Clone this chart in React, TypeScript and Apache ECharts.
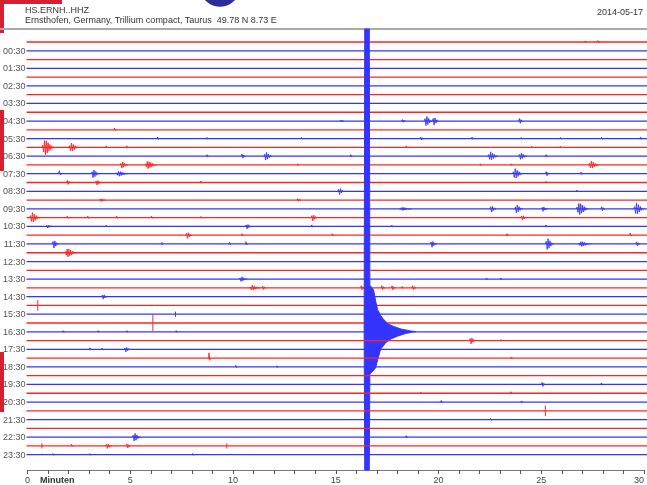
import React, { useEffect, useRef } from "react";
import * as echarts from "echarts";

const stationTitle = "HS.ERNH..HHZ";
const stationInfo = "Ernsthofen, Germany, Trillium compact, Taurus  49.78 N 8.73 E";
const dateLabel = "2014-05-17";
const xAxisName = "Minuten";

const hourLabels = [
  "00:30", "01:30", "02:30", "03:30", "04:30", "05:30", "06:30", "07:30",
  "08:30", "09:30", "10:30", "11:30", "12:30", "13:30", "14:30", "15:30",
  "16:30", "17:30", "18:30", "19:30", "20:30", "21:30", "22:30", "23:30",
];
const traceIndex = Array.from({ length: 48 }, (_, i) => i);
const traceColors = ["#ff2424", "#3434ff"];

// [trace, onset minute, amplitude (in trace spacings), duration (minutes)]
const events: number[][] = [
  [0, 27.1, 0.15, 0.1], [0, 27.7, 0.2, 0.15],
  [9, 15.2, 0.15, 0.2], [9, 18.2, 0.2, 0.2], [9, 19.3, 0.6, 0.4], [9, 19.7, 0.5, 0.3], [9, 23.9, 0.35, 0.2],
  [10, 4.2, 0.25, 0.1],
  [11, 6.3, 0.2, 0.1], [11, 8.7, 0.15, 0.1], [11, 13.3, 0.15, 0.1], [11, 19.1, 0.2, 0.2], [11, 21.6, 0.2, 0.1],
  [11, 24.0, 0.15, 0.1], [11, 25.9, 0.15, 0.1], [11, 27.9, 0.15, 0.1], [11, 29.8, 0.2, 0.1],
  [12, 0.7, 0.9, 0.6], [12, 2.0, 0.5, 0.5], [12, 3.8, 0.2, 0.1], [12, 4.8, 0.2, 0.1], [12, 18.4, 0.2, 0.1],
  [12, 24.5, 0.15, 0.1], [12, 25.9, 0.15, 0.1],
  [13, 8.7, 0.2, 0.1], [13, 10.4, 0.3, 0.2], [13, 11.5, 0.5, 0.4], [13, 15.7, 0.2, 0.1], [13, 22.4, 0.5, 0.5],
  [13, 23.9, 0.4, 0.4], [13, 25.2, 0.2, 0.1],
  [14, 4.5, 0.4, 0.4], [14, 5.7, 0.45, 0.6], [14, 13.1, 0.15, 0.1], [14, 22.0, 0.15, 0.1], [14, 23.5, 0.15, 0.1],
  [14, 27.3, 0.45, 0.5],
  [15, 1.5, 0.4, 0.15], [15, 3.1, 0.5, 0.4], [15, 4.3, 0.3, 0.6], [15, 23.6, 0.6, 0.5], [15, 25.2, 0.3, 0.2],
  [15, 26.9, 0.2, 0.1],
  [16, 1.9, 0.3, 0.2], [16, 3.3, 0.3, 0.3], [16, 8.4, 0.2, 0.1], [16, 25.2, 0.15, 0.1],
  [17, 15.1, 0.4, 0.3], [17, 26.7, 0.15, 0.1],
  [18, 3.5, 0.2, 0.3], [18, 13.1, 0.2, 0.2],
  [19, 18.1, 0.2, 0.6], [19, 22.5, 0.4, 0.3], [19, 23.7, 0.5, 0.4], [19, 25.0, 0.3, 0.3], [19, 26.7, 0.7, 0.6],
  [19, 27.9, 0.3, 0.2], [19, 29.5, 0.7, 0.5],
  [20, 0.1, 0.6, 0.5], [20, 1.9, 0.2, 0.1], [20, 2.9, 0.2, 0.1], [20, 4.3, 0.2, 0.1], [20, 6.0, 0.2, 0.1],
  [20, 8.4, 0.15, 0.1], [20, 13.8, 0.4, 0.3], [20, 24.0, 0.3, 0.3],
  [21, 0.9, 0.2, 0.3], [21, 3.8, 0.15, 0.1], [21, 10.6, 0.3, 0.3], [21, 13.8, 0.2, 0.1], [21, 17.7, 0.15, 0.1],
  [21, 25.2, 0.2, 0.1],
  [22, 7.7, 0.4, 0.3], [22, 10.4, 0.2, 0.1], [22, 14.8, 0.2, 0.1], [22, 23.3, 0.2, 0.1], [22, 29.3, 0.3, 0.1],
  [23, 1.2, 0.5, 0.3], [23, 6.5, 0.2, 0.1], [23, 9.8, 0.2, 0.1], [23, 10.6, 0.3, 0.1], [23, 19.6, 0.4, 0.3],
  [23, 25.2, 0.7, 0.4], [23, 26.8, 0.3, 0.6], [23, 29.6, 0.3, 0.2],
  [24, 1.8, 0.5, 0.6],
  [27, 10.3, 0.3, 0.4], [27, 22.3, 0.15, 0.1], [27, 23.0, 0.15, 0.1],
  [28, 10.8, 0.3, 0.5], [28, 11.4, 0.25, 0.2], [28, 16.2, 0.3, 0.2], [28, 17.2, 0.3, 0.2], [28, 17.7, 0.3, 0.2],
  [28, 18.2, 0.2, 0.1], [28, 18.7, 0.3, 0.2],
  [29, 3.6, 0.3, 0.3],
  [30, 0.5, 0.6, 0.05],
  [31, 7.2, 0.3, 0.05],
  [32, 6.1, 0.9, 0.05],
  [33, 1.7, 0.15, 0.1], [33, 3.4, 0.15, 0.1], [33, 4.8, 0.15, 0.1], [33, 7.2, 0.15, 0.1],
  [34, 21.5, 0.4, 0.3], [34, 23.0, 0.15, 0.1],
  [35, 3.0, 0.2, 0.1], [35, 3.6, 0.15, 0.1], [35, 4.7, 0.3, 0.3],
  [36, 8.8, 0.7, 0.1], [36, 23.5, 0.15, 0.1],
  [37, 10.1, 0.2, 0.1], [37, 12.1, 0.15, 0.1],
  [39, 25.0, 0.3, 0.2], [39, 27.9, 0.2, 0.1],
  [40, 19.1, 0.15, 0.1], [40, 23.5, 0.2, 0.1],
  [41, 20.1, 0.2, 0.1], [41, 24.0, 0.15, 0.1],
  [42, 25.2, 0.6, 0.05],
  [43, 22.5, 0.15, 0.1],
  [45, 5.1, 0.5, 0.4], [45, 18.4, 0.2, 0.1],
  [46, 0.7, 0.3, 0.05], [46, 2.1, 0.2, 0.1], [46, 3.8, 0.3, 0.3], [46, 4.8, 0.3, 0.2], [46, 9.7, 0.3, 0.05],
  [47, 1.2, 0.15, 0.1], [47, 3.0, 0.15, 0.1], [47, 8.0, 0.15, 0.1],
];

const quakeTrace = 33;
// [minute, amplitude in trace spacings]
const quakeUpper: number[][] = [
  [16.38, 0], [16.41, 40], [16.63, 40], [16.66, 5.3], [16.84, 4.8], [16.95, 3.4], [17.04, 2.5],
  [17.2, 1.8], [17.33, 1.4], [17.55, 0.9], [17.82, 0.6], [18.2, 0.3], [18.64, 0.1], [18.9, 0],
];
const quakeLower: number[][] = [
  [16.38, 0], [16.41, 40], [16.63, 40], [16.66, 4.8], [16.8, 4.5], [16.94, 4.1], [17.04, 3.2], [17.18, 2.0],
  [17.43, 1.25], [17.7, 0.8], [18.0, 0.5], [18.4, 0.2], [18.8, 0],
];

export default function App() {
  const ref = useRef<HTMLDivElement>(null);
  useEffect(() => {
    if (!ref.current) return;
    const chart = echarts.init(ref.current, null, { renderer: "svg" });

    const renderItem = (params: any, api: any) => {
      const t = api.value(0);
      const color = traceColors[t % 2];
      const [xa, y] = api.coord([0, t]);
      const xb = api.coord([30, t])[0];
      const unit = Math.abs(api.size([0, 1])[1]);
      const cs = params.coordSys;
      const clampY = (v: number) => Math.max(cs.y, Math.min(cs.y + cs.height, v));
      const children: any[] = [
        {
          type: "line",
          shape: { x1: xa - 1, y1: y, x2: xb + 3, y2: y },
          style: { stroke: color, lineWidth: 1.3 },
        },
      ];
      events
        .filter((e) => e[0] === t)
        .forEach((e) => {
          const xs = api.coord([e[1], t])[0];
          const xe = api.coord([e[1] + e[3], t])[0];
          const a = e[2] * unit;
          const w = xe - xs;
          if (w < 2) {
            children.push({
              type: "line",
              shape: { x1: xs, y1: y - a, x2: xs, y2: y + a },
              style: { stroke: color, lineWidth: 1 },
            });
            return;
          }
          const n = Math.max(3, Math.round(w / 0.9));
          const pts: number[][] = [];
          for (let k = 0; k <= n; k++) {
            const u = k / n;
            const env = u < 0.25 ? u / 0.25 : Math.pow((1 - u) / 0.75, 1.3);
            pts.push([xs + u * w, y + (k % 2 ? -1 : 1) * a * env]);
          }
          children.push({
            type: "polyline",
            shape: { points: pts },
            style: { stroke: color, lineWidth: 0.9, fill: null },
          });
        });
      if (t === quakeTrace) {
        const pts: number[][] = [];
        quakeUpper.forEach((p) => {
          pts.push([api.coord([p[0], t])[0], clampY(y - p[1] * unit)]);
        });
        quakeLower
          .slice()
          .reverse()
          .forEach((p) => {
            pts.push([api.coord([p[0], t])[0], clampY(y + p[1] * unit)]);
          });
        children.push({
          type: "polygon",
          shape: { points: pts },
          style: { fill: color, stroke: color, lineWidth: 1 },
        });
      }
      return { type: "group", children };
    };

    chart.setOption({
      animation: false,
      grid: { left: 26, right: 3, top: 29, bottom: 15 },
      xAxis: {
        type: "value",
        min: 0,
        max: 30,
        interval: 5,
        axisLine: { show: true, onZero: false, lineStyle: { color: "#777", width: 1 } },
        axisTick: { show: true, length: 4, lineStyle: { color: "#555" } },
        minorTick: { show: true, splitNumber: 5, length: 4, lineStyle: { color: "#555" } },
        splitLine: { show: false },
        axisLabel: { fontSize: 9, color: "#444", margin: 5, fontFamily: "Liberation Sans", alignMaxLabel: "right" },
      },
      yAxis: {
        type: "value",
        inverse: true,
        min: -1.48,
        max: 48.74,
        axisLine: { show: false },
        axisTick: { show: false },
        splitLine: { show: false },
        axisLabel: {
          show: true,
          customValues: hourLabels.map((_, k) => 2 * k + 1),
          formatter: (v: number) => hourLabels[Math.round((v - 1) / 2)] ?? "",
          fontSize: 9,
          color: "#555",
          margin: 2,
          fontFamily: "Liberation Sans",
        },
      },
      series: [
        {
          type: "custom",
          renderItem,
          data: traceIndex.map((i) => [i]),
          encode: { x: -1, y: 0 },
        },
      ],
      graphic: [
        { type: "rect", shape: { x: 0, y: 0, width: 62, height: 4 }, style: { fill: "#d42030" } },
        { type: "rect", shape: { x: 0, y: 0, width: 4, height: 33 }, style: { fill: "#d42030" } },
        { type: "rect", shape: { x: 0, y: 110, width: 4, height: 61 }, style: { fill: "#d42030" } },
        { type: "rect", shape: { x: 0, y: 352, width: 4, height: 60 }, style: { fill: "#d42030" } },
        { type: "circle", shape: { cx: 220, cy: -13.5, r: 20.2 }, style: { fill: "#2c2c9c" } },
        { type: "line", shape: { x1: 0, y1: 29, x2: 647, y2: 29 }, style: { stroke: "#aaaaaa", lineWidth: 2 } },
        {
          type: "text", x: 25, y: 10,
          style: { text: stationTitle, fontSize: 9, fill: "#333", fontFamily: "Liberation Sans", verticalAlign: "middle" },
        },
        {
          type: "text", x: 25, y: 20,
          style: { text: stationInfo, fontSize: 9, fill: "#333", fontFamily: "Liberation Sans", verticalAlign: "middle" },
        },
        {
          type: "text", x: 643, y: 12,
          style: { text: dateLabel, fontSize: 9, fill: "#333", fontFamily: "Liberation Sans", align: "right", verticalAlign: "middle" },
        },
        {
          type: "text", x: 40, y: 480,
          style: { text: xAxisName, fontSize: 9, fontWeight: "bold", fill: "#333", fontFamily: "Liberation Sans", verticalAlign: "middle" },
        },
      ],
    });
    return () => chart.dispose();
  }, []);
  return <div ref={ref} style={{ position: "fixed", left: 0, top: 0, width: 647, height: 485 }} />;
}
